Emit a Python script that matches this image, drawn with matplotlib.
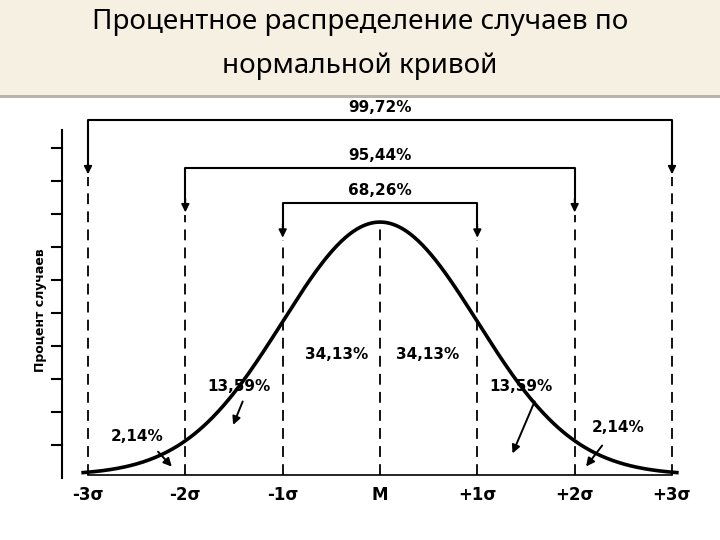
import numpy as np
import matplotlib
matplotlib.use("Agg")
import matplotlib.pyplot as plt
from matplotlib.patches import Rectangle

title_lines = ["Процентное распределение случаев по", "нормальной кривой"]
sigma_ticks = [-3, -2, -1, 0, 1, 2, 3]
sigma_labels = ["-3σ", "-2σ", "-1σ", "M", "+1σ", "+2σ", "+3σ"]
band_labels = ["99,72%", "95,44%", "68,26%"]
band_sigma = [3, 2, 1]
band_height = [0.56, 0.484, 0.429]
band_arrow_tip = [0.48, 0.42, 0.38]
area_labels = ["34,13%", "34,13%", "13,59%", "13,59%", "2,14%", "2,14%"]
area_label_pos = [(-0.45, 0.19), (0.49, 0.19), (-1.45, 0.14), (1.45, 0.14), (-2.5, 0.06), (2.45, 0.075)]
area_arrow_from = [None, None, (-1.40, 0.12), (1.6, 0.12), (-2.3, 0.04), (2.3, 0.05)]
area_arrow_to = [None, None, (-1.52, 0.075), (1.35, 0.03), (-2.12, 0.01), (2.1, 0.01)]

fig = plt.figure(figsize=(7.2, 5.4), dpi=100)
fig.patches.append(Rectangle((0, 1 - 95/540), 1, 95/540, transform=fig.transFigure,
                             facecolor="#f6f0e2", edgecolor="none", zorder=0))
fig.patches.append(Rectangle((0, 1 - 98/540), 1, 3/540, transform=fig.transFigure,
                             facecolor="#b8b4ac", edgecolor="none", zorder=0))
fig.text(0.5, 1 - 22/540, title_lines[0], ha="center", va="center", fontsize=20, family="Noto Sans")
fig.text(0.5, 1 - 66/540, title_lines[1], ha="center", va="center", fontsize=20, family="Noto Sans")

ax = fig.add_axes([0, 0, 1, 1 - 100/540])
ax.set_axis_off()
pps = 97.3
ax.set_xlim(-3 - 88/pps, 3 + 48/pps)
sc = 634
ax.set_ylim(-65/sc, (475-100)/sc)

x = np.linspace(-3.05, 3.05, 400)
y = np.exp(-x**2/2)/np.sqrt(2*np.pi)
ax.plot(x, y, color="black", lw=2.6)
ax.plot([-3, 3], [0, 0], color="black", lw=1.2)
ax.plot([0, 0], [0, y.max()], color="black", lw=1.3, ls=(0, (6, 4)))

for lab, s, h, tip in zip(band_labels, band_sigma, band_height, band_arrow_tip):
    ax.plot([-s, -s, s, s], [tip, h, h, tip], color="black", lw=1.5)
    for sx in (-s, s):
        ax.annotate("", xy=(sx, tip - 0.01), xytext=(sx, tip + 0.02),
                    arrowprops=dict(arrowstyle="-|>", color="black", lw=1.2, mutation_scale=12))
        ax.plot([sx, sx], [0, tip - 0.01], color="black", lw=1.3, ls=(0, (6, 4)))
    ax.text(0, h + 0.008, lab, ha="center", va="bottom", fontsize=11, fontweight="bold")

yx = -3 - 26/pps
ax.plot([yx, yx], [-3/sc, (475-130)/sc], color="black", lw=1.5)
for k in range(11):
    ty = (475 - 148 - 33*k)/sc
    if ty < 0:
        continue
    ax.plot([yx - 10/pps, yx], [ty, ty], color="black", lw=1.5)
ax.text(-3 - 48/pps, (475-310)/sc, "Процент случаев", rotation=90, ha="center", va="center",
        fontsize=9, fontweight="bold")

for lab, p, a0, a1 in zip(area_labels, area_label_pos, area_arrow_from, area_arrow_to):
    ax.text(p[0], p[1], lab, ha="center", va="center", fontsize=11, fontweight="bold")
    if a0 is not None:
        ax.annotate("", xy=a1, xytext=a0,
                    arrowprops=dict(arrowstyle="-|>", color="black", lw=1.4, mutation_scale=12))

for t, lab in zip(sigma_ticks, sigma_labels):
    ax.text(t, -20/sc, lab, ha="center", va="center", fontsize=12, fontweight="bold")

fig.savefig("out.png", dpi=100)
